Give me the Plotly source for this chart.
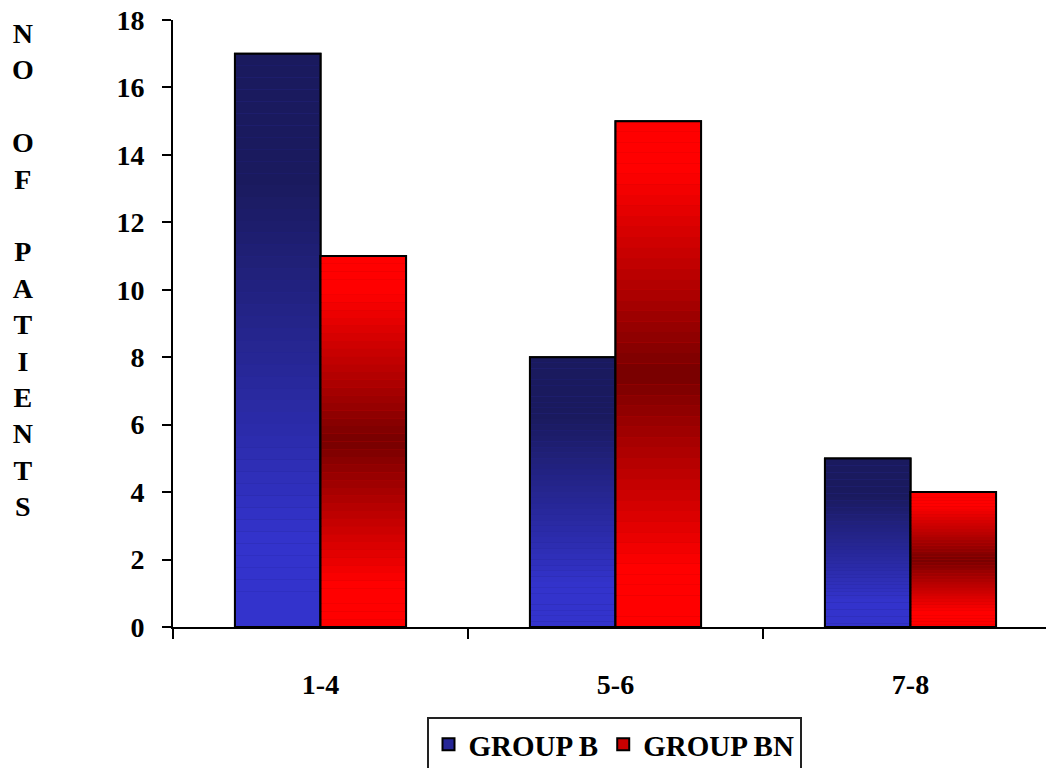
import plotly.graph_objects as go

categories = ["1-4", "5-6", "7-8"]
group_b = [17, 8, 5]
group_bn = [11, 15, 4]
series_names = ["GROUP B", "GROUP BN"]
y_ticks = [0, 2, 4, 6, 8, 10, 12, 14, 16, 18]
y_title_letters = ["N", "O", "", "O", "F", "", "P", "A", "T", "I", "E", "N", "T", "S"]

FONT = "Liberation Serif, Times New Roman, serif"
N_SEG = 48


def lerp(c1, c2, f):
    return tuple(int(round(a + (b - a) * f)) for a, b in zip(c1, c2))


def blue_color(t):
    light, dark = (51, 51, 204), (26, 26, 94)
    if t <= 0.15:
        c = light
    elif t >= 0.78:
        c = dark
    else:
        c = lerp(light, dark, (t - 0.15) / 0.63)
    return "rgb(%d,%d,%d)" % c


def red_color(t):
    bright, dark = (255, 0, 0), (118, 0, 0)
    if t <= 0.12 or t >= 0.9:
        c = bright
    elif t <= 0.5:
        c = lerp(bright, dark, (t - 0.12) / 0.38)
    else:
        c = lerp(dark, bright, (t - 0.5) / 0.4)
    return "rgb(%d,%d,%d)" % c


WIDTH = 0.29
series = [
    (series_names[0], group_b, blue_color, -WIDTH, "rgb(38,38,150)"),
    (series_names[1], group_bn, red_color, 0.0, "rgb(200,0,0)"),
]

fig = go.Figure()
for name, vals, cfun, off, mid in series:
    # base full bar (legend entry)
    fig.add_trace(go.Bar(
        x=categories, y=vals, name=name, offset=off, width=WIDTH,
        marker=dict(color=mid, line=dict(color="black", width=2)),
        showlegend=True, hoverinfo="x+y+name",
    ))
    # gradient segments
    for k in range(N_SEG):
        t = (k + 0.5) / N_SEG
        fig.add_trace(go.Bar(
            x=categories, y=[v / N_SEG for v in vals],
            base=[v * k / N_SEG for v in vals],
            offset=off, width=WIDTH,
            marker=dict(color=cfun(t), line=dict(width=0)),
            showlegend=False, hoverinfo="skip",
        ))
    # outline on top
    fig.add_trace(go.Bar(
        x=categories, y=vals, offset=off, width=WIDTH,
        marker=dict(color="rgba(0,0,0,0)", line=dict(color="black", width=2)),
        showlegend=False, hoverinfo="skip",
    ))

FW, FH = 1046, 768
L, T = 173, 20
PB = 627
B = FH - PB
plot_w = FW - L
plot_h = PB - T
cat_px = 295.0

fig.add_annotation(
    text="<br>".join(y_title_letters),
    xref="paper", yref="paper",
    x=(23 - L) / plot_w, y=1 + (T - 16) / plot_h,
    xanchor="center", yanchor="top", showarrow=False, align="center",
    font=dict(family=FONT, size=28, color="black", weight="bold"),
)

fig.update_layout(
    width=FW, height=FH,
    margin=dict(l=L, r=0, t=T, b=B, autoexpand=False),
    paper_bgcolor="white", plot_bgcolor="white",
    barmode="overlay",
    font=dict(family=FONT, size=28, color="black", weight="bold"),
    showlegend=True,
    legend=dict(
        orientation="h", x=(614 - L) / plot_w, xanchor="center",
        y=-(717 - 627) / plot_h, yanchor="top",
        bordercolor="#222222", borderwidth=2, bgcolor="white",
        font=dict(family=FONT, size=29, color="black", weight="bold"),
        itemsizing="constant", traceorder="normal", itemwidth=30,
    ),
    xaxis=dict(
        type="category", range=[-0.5, -0.5 + plot_w / cat_px],
        showline=True, linecolor="black", linewidth=2, automargin=False,
        ticks="outside", tickson="boundaries", ticklen=10, tickwidth=2, tickcolor="black",
        ticklabelstandoff=31, showgrid=False, zeroline=False,
        ticklabeloverflow="allow",
        tickfont=dict(family=FONT, size=28, color="black", weight="bold"),
    ),
    yaxis=dict(
        range=[0, 18], tickvals=y_ticks, automargin=False,
        showline=True, linecolor="black", linewidth=2,
        ticks="outside", ticklen=9, tickwidth=2, tickcolor="black",
        ticklabelstandoff=12, showgrid=False, zeroline=False,
        ticklabeloverflow="allow",
        tickfont=dict(family=FONT, size=28, color="black", weight="bold"),
    ),
)

fig.write_html(
    "out.html",
    config={"displayModeBar": False},
    post_script="document.body.style.margin='0px';document.body.style.overflow='hidden';",
)
